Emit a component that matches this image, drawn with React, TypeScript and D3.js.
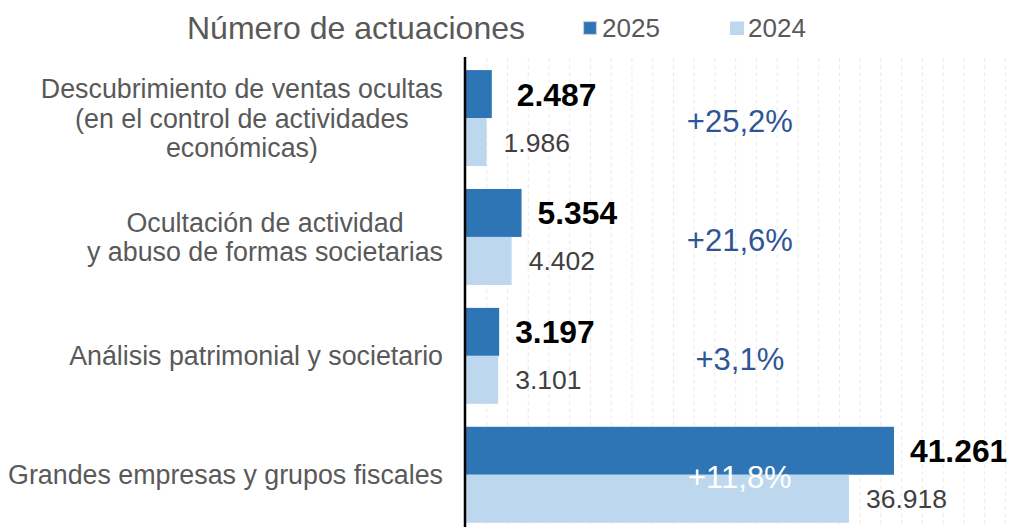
import React from "react";
import * as d3 from "d3";

const categories: string[][] = [
  ["Descubrimiento de ventas ocultas", "(en el control de actividades", "económicas)"],
  ["Ocultación de actividad", "y abuso de formas societarias"],
  ["Análisis patrimonial y societario"],
  ["Grandes empresas y grupos fiscales"],
];
const values2025: number[] = [2487, 5354, 3197, 41261];
const values2024: number[] = [1986, 4402, 3101, 36918];
const labels2025: string[] = ["2.487", "5.354", "3.197", "41.261"];
const labels2024: string[] = ["1.986", "4.402", "3.101", "36.918"];
const changes: string[] = ["+25,2%", "+21,6%", "+3,1%", "+11,8%"];
const seriesNames: string[] = ["2025", "2024"];
const gridTicks: number[] = d3.range(2000, 52001, 2000);

const W = 1022;
const H = 527;
const FONT = "'Liberation Sans', Arial, Helvetica, sans-serif";
const C2025 = "#2E75B6";
const C2024 = "#BDD7EE";

function measure(text: string, font: string): number {
  const c = document.createElement("canvas").getContext("2d");
  if (!c) return text.length * 13;
  c.font = font;
  return c.measureText(text).width;
}

export default function App() {
  const x = d3.scaleLinear().domain([0, 52000]).range([466, 466 + 52000 * 0.010373]);
  const idx = categories.map((_, i) => String(i));
  const y = d3
    .scaleBand<string>()
    .domain(idx)
    .range([58.6, 534.2])
    .paddingInner(0.193)
    .paddingOuter(0.0965);
  const sub = d3.scaleBand<string>().domain(seriesNames).range([0, y.bandwidth()]);
  const bh = sub.bandwidth();
  const catSize = 26.8;
  const catFont = `${catSize}px ${FONT}`;
  const lineH = 29.5;
  const labelRight = 443;

  return (
    <svg
      width={W}
      height={H}
      style={{ position: "absolute", left: 0, top: 0, display: "block", background: "#fff" }}
      fontFamily={FONT}
    >
      <rect x={0} y={0} width={W} height={H} fill="#fff" />
      {/* grid */}
      {gridTicks.map((t) => (
        <line
          key={t}
          x1={x(t)}
          x2={x(t)}
          y1={58}
          y2={H}
          stroke="#EAEAEA"
          strokeWidth={1}
          strokeDasharray="4 3"
        />
      ))}
      {/* title & legend */}
      <text x={187} y={39} fontSize={32} fill="#595959">
        Número de actuaciones
      </text>
      <rect x={583.5} y={21.5} width={13} height={13} fill={C2025} stroke="#D0D0D0" strokeWidth={1.2} />
      <text x={602} y={37.3} fontSize={26} fill="#595959">
        {seriesNames[0]}
      </text>
      <rect x={730} y={21.5} width={14} height={13.5} fill={C2024} />
      <text x={748} y={37.3} fontSize={26} fill="#595959">
        {seriesNames[1]}
      </text>
      {/* bars */}
      {idx.map((k, i) => {
        const y0 = y(k) as number;
        const yA = y0 + (sub("2025") as number);
        const yB = y0 + (sub("2024") as number);
        return (
          <g key={k}>
            <rect x={x(0)} y={yA} width={x(values2025[i]) - x(0)} height={bh} fill={C2025} />
            <rect x={x(0)} y={yB} width={x(values2024[i]) - x(0)} height={bh} fill={C2024} />
            <text
              x={x(values2025[i]) + (i === 0 ? 25 : 16)}
              y={yA + bh / 2}
              dy="0.36em"
              fontSize={31.8}
              fontWeight="bold"
              fill="#000"
            >
              {labels2025[i]}
            </text>
            <text x={x(values2024[i]) + 17} y={yB + bh / 2} dy="0.36em" fontSize={26.5} fill="#404040">
              {labels2024[i]}
            </text>
          </g>
        );
      })}
      {/* percentage changes */}
      {idx.map((k, i) => (
        <text
          key={"p" + k}
          x={x(26400)}
          y={(y(k) as number) + y.bandwidth() / 2 + 2.5}
          dy="0.36em"
          textAnchor="middle"
          fontSize={31}
          fill={i === categories.length - 1 ? "#FFFFFF" : "#2F5597"}
        >
          {changes[i]}
        </text>
      ))}
      {/* category labels */}
      {categories.map((lines, i) => {
        const maxW = Math.max(...lines.map((l) => measure(l, catFont)));
        const cx = labelRight - maxW / 2;
        const cy = (y(String(i)) as number) + y.bandwidth() / 2;
        return (
          <text key={"c" + i} textAnchor="middle" fontSize={catSize} fill="#595959">
            {lines.map((l, j) => (
              <tspan key={j} x={cx} y={cy + (j - (lines.length - 1) / 2) * lineH} dy="0.36em">
                {l}
              </tspan>
            ))}
          </text>
        );
      })}
      {/* axis line */}
      <line x1={465} x2={465} y1={57} y2={H} stroke="#000" strokeWidth={2.5} />
    </svg>
  );
}
